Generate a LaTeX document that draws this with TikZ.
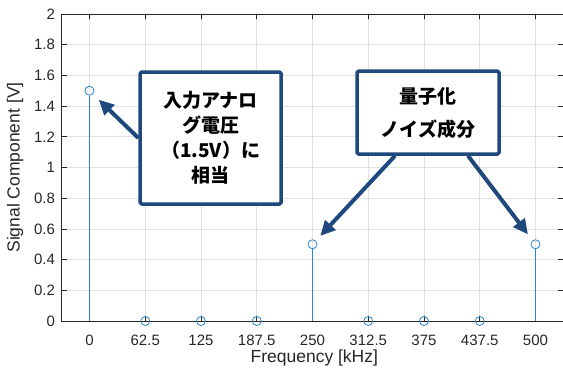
\documentclass[tikz,border=0pt]{standalone}
\usepackage{fontspec}
\setmainfont{Liberation Sans}
\newfontfamily\jpfont{Noto Sans CJK JP}
\usetikzlibrary{arrows.meta}
\definecolor{stemblue}{RGB}{40,135,205}
\definecolor{callblue}{RGB}{31,73,125}
\definecolor{axisgray}{RGB}{38,38,38}
\definecolor{gridgray}{RGB}{226,226,226}

\begin{document}
\begin{tikzpicture}[line cap=round,line join=round,x=0.892pt,y=153.5pt,
    marker/.style={circle,draw=stemblue,line width=0.8pt,minimum size=9pt,inner sep=0pt},
    stem/.style={stemblue,line width=1pt,line cap=butt},
    ticklabel/.style={text=axisgray,font=\fontsize{15}{18}\selectfont,inner sep=0pt},
    axlabel/.style={text=axisgray,font=\fontsize{17.5}{20}\selectfont},
    callout/.style={draw=callblue,line width=3.5pt,rounded corners=1.5pt,fill=white,align=center,
      font=\jpfont\bfseries\fontsize{19}{25}\selectfont},
    pointer/.style={callblue,line width=4pt,line cap=butt,-{Triangle[length=15pt,width=14pt]}}]

    \useasboundingbox (-100.34,-0.3257) rectangle (530.83,2.0912);

	% grid
    \foreach \x in {0,62.5,125,187.5,250,312.5,375,437.5,500}
        \draw[gridgray,line width=0.6pt] (\x,0) -- (\x,2);
    \foreach \y in {0.2,0.4,0.6,0.8,1,1.2,1.4,1.6,1.8}
        \draw[gridgray,line width=0.6pt] (-31.25,\y) -- (531.25,\y);

    % axes box and ticks
    \draw[axisgray,line width=0.7pt] (-31.25,0) rectangle (531.25,2);
    \foreach \x in {0,62.5,125,187.5,250,312.5,375,437.5,500} {
        \draw[axisgray,line width=0.6pt] (\x,0) -- ++(0pt,5pt);
        \draw[axisgray,line width=0.6pt] (\x,2) -- ++(0pt,-5pt);
        \node[ticklabel] at (\x,-0.1238) {\x};
    }
    \foreach \y in {0,0.2,0.4,0.6,0.8,1,1.2,1.4,1.6,1.8,2} {
        \draw[axisgray,line width=0.6pt] (-31.25,\y) -- ++(5pt,0pt);
        \draw[axisgray,line width=0.6pt] (531.25,\y) -- ++(-5pt,0pt);
        \node[ticklabel,anchor=east,xshift=-6.5pt] at (-31.25,\y) {\y};
    }
    \node[axlabel] at (252,-0.2380) {Frequency [kHz]};
    \node[axlabel,rotate=90] at (-83.5,1.0) {Signal Component [V]};

    % stems
    \foreach \x/\v [count=\i] in {0/1.5,62.5/0,125/0,187.5/0,250/0.5,312.5/0,375/0,437.5/0,500/0.5}
        \node[marker] (m\i) at (\x,\v) {};
    \coordinate (b1) at (0,0);
    \coordinate (b5) at (250,0);
    \coordinate (b9) at (500,0);
    \draw[stem] (b1) -- (m1);
    \draw[stem] (b5) -- (m5);
    \draw[stem] (b9) -- (m9);

    % callouts
    \node[callout,minimum width=141pt,minimum height=132pt] (volt) at (135.8,1.192)
        {入力アナロ\\グ電圧\\（1.5V）に\\相当};
    \node[callout,minimum width=142pt,minimum height=83pt,
        font=\jpfont\bfseries\fontsize{19}{33}\selectfont] (noise) at (379.5,1.358)
        {量子化\\ノイズ成分};

    \draw[pointer,shorten >=8pt] (volt.west) -- (m1);
    \draw[pointer,shorten >=6.5pt] ([xshift=-33pt]noise.south) -- (m5);
    \draw[pointer,shorten >=7.5pt] ([xshift=40pt]noise.south) -- (m9);
\end{tikzpicture}
\end{document}
